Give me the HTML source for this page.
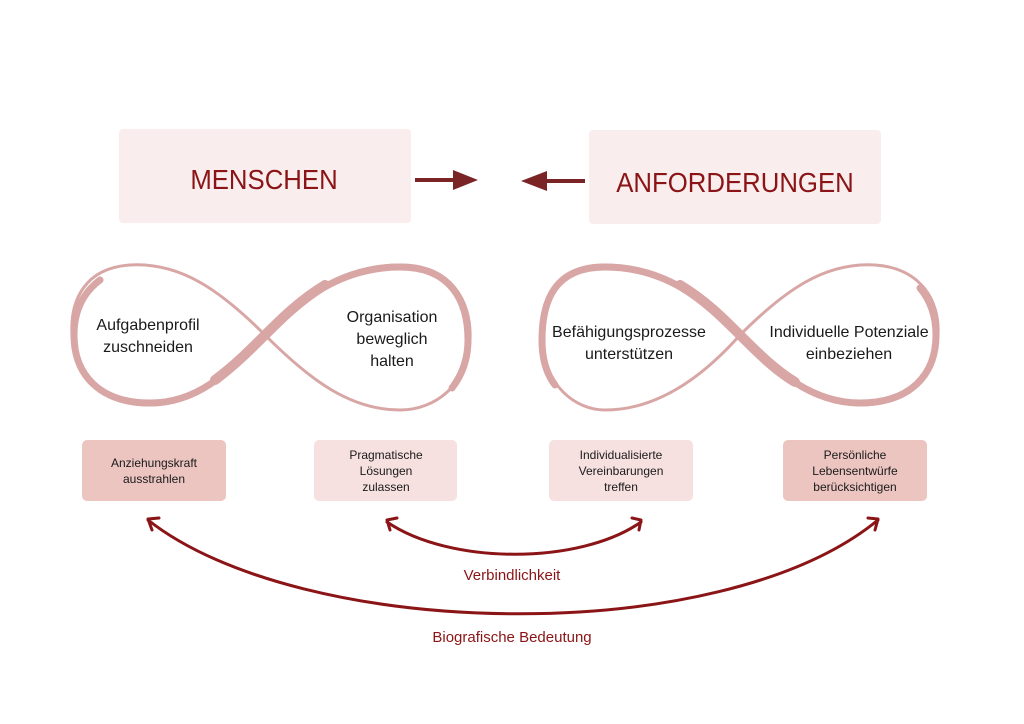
<!DOCTYPE html>
<html><head><meta charset="utf-8"><style>
body{margin:0;background:#fff;}
svg{display:block;}
text{font-family:"Liberation Sans",sans-serif;}
</style></head><body>
<svg width="1024" height="724" viewBox="0 0 1024 724" xmlns="http://www.w3.org/2000/svg">
<rect x="0" y="0" width="1024" height="724" fill="#fff"/>
<rect x="119" y="129" width="292" height="94" rx="4" fill="#f9eded"/>
<rect x="589" y="130" width="292" height="94" rx="4" fill="#f9eded"/>
<text x="264" y="189" text-anchor="middle" font-size="28" fill="#8b1416" transform="translate(264 0) scale(0.92 1) translate(-264 0)">MENSCHEN</text>
<text x="735" y="192" text-anchor="middle" font-size="28" fill="#8b1416" transform="translate(735 0) scale(0.92 1) translate(-735 0)">ANFORDERUNGEN</text>
<line x1="415" y1="180" x2="456" y2="180" stroke="#7a2426" stroke-width="4"/>
<polygon points="453,170 478,180 453,190" fill="#7a2426"/>
<line x1="585" y1="181" x2="544" y2="181" stroke="#7a2426" stroke-width="4"/>
<polygon points="547,171 521,181 547,191" fill="#7a2426"/>

<g fill="none" stroke="#d8a7a5" stroke-linecap="round">
<path d="M265,335 C220,290 180,262 130,265 C85,268 70,300 72,335 C74,375 100,405 150,405 C200,405 230,370 265,335 C300,300 340,265 400,265 C450,265 472,300 470,340 C468,385 435,410 400,410 C350,410 310,380 265,335 Z" stroke-width="3"/>
<path d="M100,280 C80,295 74,315 74,335 C74,375 100,403 150,403 C200,403 230,370 265,335 C300,300 340,267 400,267 C450,267 468,300 468,340 C468,360 462,375 452,388" stroke-width="7"/>
<path d="M215,380 C235,365 250,350 265,335 C280,320 300,300 325,285" stroke-width="10"/>
</g>
<g fill="none" stroke="#d8a7a5" stroke-linecap="round">
<path d="M740,335 C785,290 825,262 875,265 C920,268 940,300 938,335 C936,375 910,405 860,405 C810,405 775,370 740,335 C705,300 665,265 605,265 C555,265 540,300 542,340 C544,385 575,410 605,410 C655,410 700,380 740,335 Z" stroke-width="3"/>
<path d="M555,385 C545,372 542,355 542,340 C542,300 555,267 605,267 C665,267 705,300 740,335 C775,370 810,403 860,403 C910,403 936,375 936,335 C936,315 930,300 920,288" stroke-width="7"/>
<path d="M680,285 C705,300 722,317 740,335 C758,353 775,370 795,382" stroke-width="10"/>
</g>
<g font-size="16" fill="#1a1a1a" text-anchor="middle">
<text x="148" y="330">Aufgabenprofil</text><text x="148" y="352">zuschneiden</text>
<text x="392" y="322">Organisation</text><text x="392" y="344">beweglich</text><text x="392" y="366">halten</text>
<text x="629" y="337">Befähigungsprozesse</text><text x="629" y="359">unterstützen</text>
<text x="849" y="337">Individuelle Potenziale</text><text x="849" y="359">einbeziehen</text>
</g>
<rect x="82" y="440" width="144" height="61" rx="5" fill="#ecc5c1"/>
<rect x="314" y="440" width="143" height="61" rx="5" fill="#f6e1e0"/>
<rect x="549" y="440" width="144" height="61" rx="5" fill="#f6e1e0"/>
<rect x="783" y="440" width="144" height="61" rx="5" fill="#ecc5c1"/>
<g font-size="12" fill="#1a1a1a" text-anchor="middle">
<text x="154" y="467">Anziehungskraft</text><text x="154" y="483">ausstrahlen</text>
<text x="386" y="459">Pragmatische</text><text x="386" y="475">Lösungen</text><text x="386" y="491">zulassen</text>
<text x="621" y="459">Individualisierte</text><text x="621" y="475">Vereinbarungen</text><text x="621" y="491">treffen</text>
<text x="855" y="459">Persönliche</text><text x="855" y="475">Lebensentwürfe</text><text x="855" y="491">berücksichtigen</text>
</g>
<g fill="none" stroke="#8b1416" stroke-width="3" stroke-linecap="round" stroke-linejoin="round">
<path d="M148,520 C300,640 720,650 878,520"/>
<path d="M159,518 L148,519 L152,530"/>
<path d="M868,518 L878,519 L875,530"/>
<path d="M387,522 C450,565 580,565 641,522"/>
<path d="M397,518 L387,520 L390,530"/>
<path d="M632,518 L641,520 L639,530"/>
</g>
<text x="512" y="580" text-anchor="middle" font-size="15" fill="#8b1416">Verbindlichkeit</text>
<text x="512" y="642" text-anchor="middle" font-size="15" fill="#8b1416">Biografische Bedeutung</text>
</svg>
</body></html>
